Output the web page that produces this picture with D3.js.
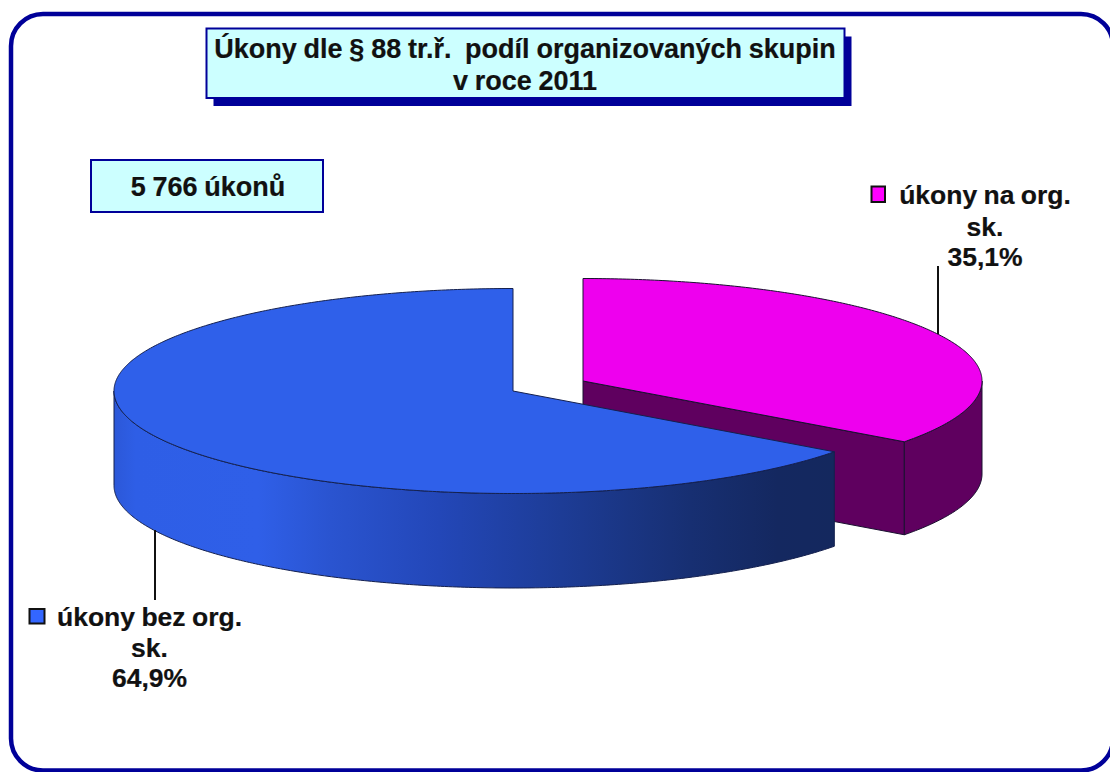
<!DOCTYPE html>
<html><head><meta charset="utf-8">
<script src="https://cdn.jsdelivr.net/npm/d3@7/dist/d3.min.js"></script>
<style>html,body{margin:0;padding:0;background:#fff}svg{display:block}text{font-family:"Liberation Sans",Arial,sans-serif;font-weight:bold;fill:#111;stroke:#111;stroke-width:.2px;white-space:pre}</style>
</head><body><svg id="c" width="1110" height="772"></svg>
<script>
const categories = ["úkony na org. sk.", "úkony bez org. sk."];
const values = [35.1, 64.9];
const labelLines = [["úkony na org.", "sk.", "35,1%"], ["úkony bez org.", "sk.", "64,9%"]];
const topColors = ["#ee00ee", "#2f60ea"];
const swatchColors = ["#ff00ff", "#3366ff"];
const titleLines = ["Úkony dle § 88 tr.ř.  podíl organizovaných skupin", "v roce 2011"];
const noteText = "5 766 úkonů";

const svg = d3.select("#c");
const navy = "#000099", wall = "#5f005f", edge = "#1a1030";
const defs = svg.append("defs");
const grad = defs.append("linearGradient").attr("id","blueWall").attr("gradientUnits","userSpaceOnUse")
  .attr("x1",114).attr("x2",835).attr("y1",0).attr("y2",0);
[[0,"#2c58d8"],[0.03,"#2e5ee6"],[0.2,"#2f5fe8"],[0.3,"#2a54d0"],[0.45,"#2347b8"],[0.62,"#1d3c96"],[0.8,"#172f72"],[0.92,"#142860"],[1,"#14285e"]]
  .forEach(([o,c])=>grad.append("stop").attr("offset",o).attr("stop-color",c));

// frame
svg.append("rect").attr("x",11).attr("y",14).attr("width",1102).attr("height",756.5)
  .attr("rx",32).attr("ry",32).attr("fill","#fff").attr("stroke",navy).attr("stroke-width",4.5);

// 3D pie
const arcs = d3.pie().sort(null).startAngle(0).endAngle(2*Math.PI)(values);
const rx = d3.scaleLinear().domain([0,1]).range([0,399]);
const ry = d3.scaleLinear().domain([0,1]).range([0,102.5]);
const centers = [{x:583,y:381,d:93},{x:513,y:391,d:94.5}];
const pt = (c,a,dy=0)=>[c.x+rx(1)*Math.sin(a), c.y-ry(1)*Math.cos(a)+dy];
const line = d3.line();
const sweep = (a,b)=>{const n=Math.max(2,Math.ceil(Math.abs(b-a)/0.01));return d3.range(n+1).map(i=>a+(b-a)*i/n);};
const topPath = (c,a,b)=>line([[c.x,c.y],...sweep(a,b).map(t=>pt(c,t))])+"Z";
const wallPath = (c,a,b)=>{const s=sweep(a,b);return line([...s.map(t=>pt(c,t)),...s.slice().reverse().map(t=>pt(c,t,c.d))])+"Z";};
const cutPath = (c,a)=>{const p=pt(c,a);return line([[c.x,c.y],p,[p[0],p[1]+c.d],[c.x,c.y+c.d]])+"Z";};
const g = svg.append("g").attr("stroke",edge).attr("stroke-width",1).attr("stroke-linejoin","round");
// pink slice (exploded right)
{const c=centers[0],A=arcs[0];
 g.append("path").attr("d",cutPath(c,A.endAngle)).attr("fill",wall);
 g.append("path").attr("d",wallPath(c,Math.PI/2,A.endAngle)).attr("fill",wall);
 g.append("path").attr("d",topPath(c,A.startAngle,A.endAngle)).attr("fill",topColors[0]);}
// blue slice
{const c=centers[1],A=arcs[1];
 g.append("path").attr("d",wallPath(c,A.startAngle,1.5*Math.PI)).attr("fill","url(#blueWall)").attr("stroke","#14204e");
 g.append("path").attr("d",topPath(c,A.startAngle,A.endAngle)).attr("fill",topColors[1]).attr("stroke","#14204e");}

// leader lines
const leader = svg.append("g").attr("stroke","#111").attr("stroke-width",2);
leader.append("line").attr("x1",938).attr("x2",938).attr("y1",266).attr("y2",334);
leader.append("line").attr("x1",155).attr("x2",155).attr("y1",530).attr("y2",600);

// boxes
function box(x,y,w,h,shadow){
  if(shadow) svg.append("rect").attr("x",x+7).attr("y",y+8).attr("width",w).attr("height",h).attr("fill",navy);
  svg.append("rect").attr("x",x).attr("y",y).attr("width",w).attr("height",h).attr("fill","#ccffff").attr("stroke",navy).attr("stroke-width",2);
}
box(206.5,28.5,638,69.5,true);
svg.selectAll(".t").data(titleLines).join("text").attr("class","t").attr("x",525).attr("y",(d,i)=>[58,90][i])
  .attr("text-anchor","middle").attr("font-size",27).attr("word-spacing",-0.7).text(d=>d);
box(91,160,232,52,false);
svg.append("text").attr("x",208).attr("y",196).attr("text-anchor","middle").attr("font-size",27).attr("word-spacing",-0.7).text(noteText);

// data labels
const labelPos = [{x:985,sx:871.5,sy:186.5,w:13.5,h:15.5},{x:149.5,sx:29.5,sy:609,w:15,h:14.5}];
const labelY = [[204,236,266],[626,657,687]];
labelLines.forEach((ls,k)=>{
  const P=labelPos[k];
  svg.append("rect").attr("x",P.sx).attr("y",P.sy).attr("width",P.w).attr("height",P.h)
    .attr("fill",swatchColors[k]).attr("stroke","#111").attr("stroke-width",2);
  ls.forEach((t,i)=>{
    svg.append("text").attr("x",P.x).attr("y",labelY[k][i]).attr("text-anchor","middle").attr("font-size",26.5).attr("word-spacing",-1).text(t);
  });
});
</script></body></html>
